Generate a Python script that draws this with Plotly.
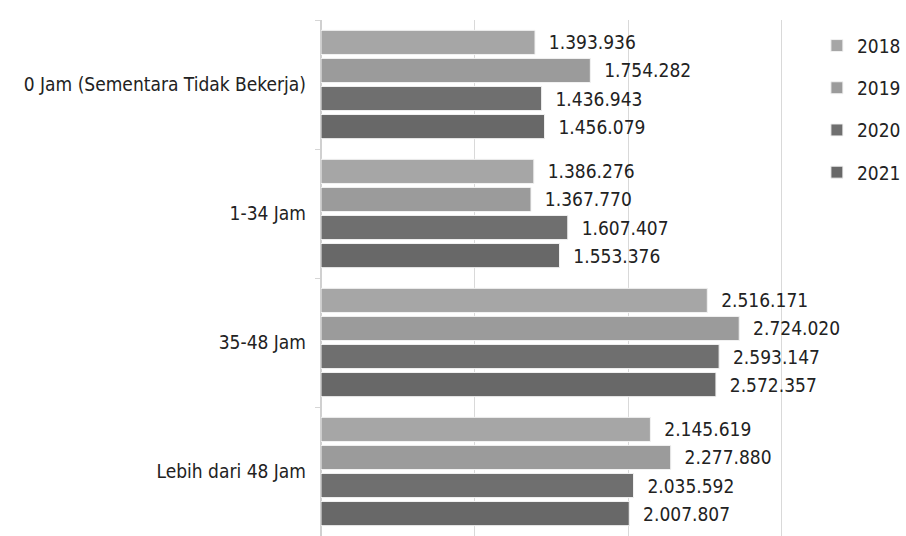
import plotly.graph_objects as go

categories = ["0 Jam (Sementara Tidak Bekerja)", "1-34 Jam", "35-48 Jam", "Lebih dari 48 Jam"]
years = ["2018", "2019", "2020", "2021"]
values = {
    "2018": [1393936, 1386276, 2516171, 2145619],
    "2019": [1754282, 1367770, 2724020, 2277880],
    "2020": [1436943, 1607407, 2593147, 2035592],
    "2021": [1456079, 1553376, 2572357, 2007807],
}
colors = {"2018": "#a6a6a6", "2019": "#9b9b9b", "2020": "#6f6f6f", "2021": "#686868"}

FONT = "Liberation Sans Narrow, DejaVu Sans Condensed, Arial Narrow, sans-serif"

fig = go.Figure()
for yr in years:
    fig.add_trace(go.Bar(
        y=categories, x=values[yr], orientation="h", name=yr,
        legendgroup=yr,
        marker=dict(color=colors[yr], line=dict(color="#f2f2f2", width=1)),
        texttemplate="\u00a0\u00a0%{x:,}", textposition="outside",
        textfont=dict(family=FONT, size=19, color="#222222"),
        cliponaxis=False,
    ))

fig.update_layout(
    width=906, height=536,
    margin=dict(l=321, r=63, t=20, b=0, autoexpand=False),
    paper_bgcolor="white", plot_bgcolor="white",
    separators=",.",
    barmode="group", bargap=0.13, bargroupgap=0.14,
    font=dict(family=FONT, size=19, color="#222222"),
    showlegend=True,
    legend=dict(x=0.950, y=0.987, xanchor="left", yanchor="top",
                traceorder="grouped", tracegroupgap=14.5,
                font=dict(family=FONT, size=19, color="#222222"),
                bgcolor="rgba(0,0,0,0)"),
    xaxis=dict(range=[0, 3400000], dtick=1000000, showgrid=True, gridcolor="#d9d9d9",
               gridwidth=1, showticklabels=False, zeroline=True, zerolinecolor="#d0d0d0",
               ticks=""),
    yaxis=dict(autorange="reversed", showgrid=False, ticks="outside", tickson="boundaries",
               ticklen=5, tickcolor="#d6d6d6", ticklabelstandoff=14,
               tickfont=dict(family=FONT, size=19, color="#222222")),
)

fig.write_html("out.html")
